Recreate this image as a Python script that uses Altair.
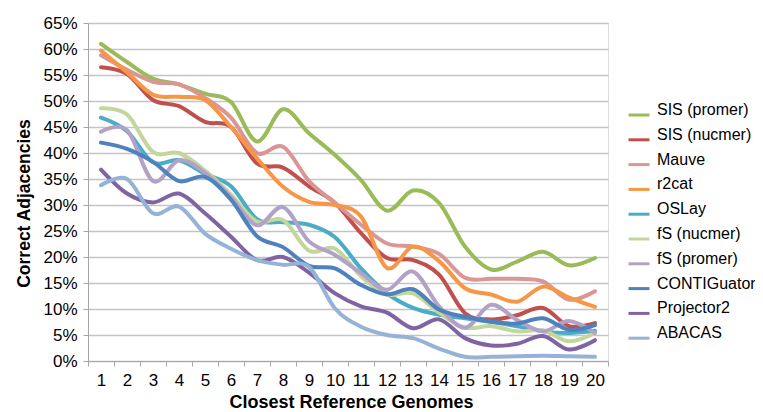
import altair as alt
import pandas as pd

genomes = list(range(1, 21))
series_names = ["SIS (promer)", "SIS (nucmer)", "Mauve", "r2cat", "OSLay",
                "fS (nucmer)", "fS (promer)", "CONTIGuator", "Projector2", "ABACAS"]
series_colors = ["#9BBB59", "#C0504D", "#D99694", "#F79646", "#4BACC6",
                 "#C3D69B", "#B3A2C7", "#4F81BD", "#8064A2", "#95B3D7"]

sis_promer = [61.0, 57.5, 54.3, 53.2, 51.4, 49.8, 42.2, 48.4, 43.8, 39.6, 34.8, 28.9, 32.8, 30.4, 22.0, 17.6, 19.1, 21.0, 18.4, 19.8]
sis_nucmer = [56.5, 55.2, 50.2, 49.0, 46.0, 45.0, 38.0, 37.2, 33.6, 30.4, 24.6, 19.8, 19.4, 16.6, 9.2, 8.0, 8.8, 10.2, 6.7, 7.3]
mauve = [58.8, 56.0, 53.7, 53.2, 50.6, 46.8, 40.0, 41.2, 34.6, 30.4, 26.2, 22.6, 22.0, 20.6, 16.0, 15.8, 15.8, 15.3, 11.8, 13.4]
r2cat = [59.7, 55.5, 51.2, 50.8, 50.2, 45.0, 39.0, 33.5, 30.6, 30.0, 27.8, 17.9, 22.0, 19.2, 14.0, 12.8, 11.4, 14.3, 12.2, 10.4]
oslay = [46.8, 44.2, 38.2, 38.6, 36.0, 33.6, 27.3, 26.7, 26.2, 23.8, 17.8, 13.0, 10.2, 8.9, 8.2, 7.5, 6.7, 5.7, 5.4, 5.8]
fs_nucmer = [48.6, 47.4, 40.2, 40.0, 36.6, 32.0, 26.8, 27.1, 21.2, 21.6, 16.3, 12.8, 13.0, 9.3, 6.4, 6.7, 5.7, 5.9, 3.8, 5.4]
fs_promer = [44.1, 44.4, 34.6, 38.6, 36.2, 31.5, 26.1, 29.6, 23.0, 20.4, 16.9, 13.7, 17.2, 10.5, 6.4, 10.8, 7.9, 5.7, 7.7, 5.4]
contiguator = [42.0, 40.8, 38.3, 34.6, 35.4, 31.0, 24.0, 21.9, 18.3, 17.8, 14.6, 12.8, 13.8, 9.9, 8.5, 7.6, 7.2, 8.2, 6.0, 6.9]
projector2 = [36.8, 32.2, 30.5, 32.2, 28.4, 23.9, 19.4, 20.0, 17.0, 13.0, 10.5, 9.3, 6.3, 8.0, 4.4, 3.0, 3.3, 4.8, 2.2, 4.0]
abacas = [33.8, 35.0, 28.4, 29.7, 24.5, 21.6, 19.4, 18.5, 18.1, 10.1, 6.6, 5.0, 4.4, 2.4, 0.8, 0.8, 0.9, 1.0, 0.9, 0.8]

y_ticks = [i * 0.05 for i in range(14)]
x_ticks = [g - 0.5 for g in genomes] + [genomes[-1] + 0.5]

all_series = [sis_promer, sis_nucmer, mauve, r2cat, oslay,
              fs_nucmer, fs_promer, contiguator, projector2, abacas]

rows = []
for k, (name, vals) in enumerate(zip(series_names, all_series)):
    for g, v in zip(genomes, vals):
        rows.append({"series": name, "genome": g, "value": v / 100.0, "k": k})
df = pd.DataFrame(rows)

FONT = "Liberation Sans"
W, H = 520, 338
band = W / len(genomes)

chart = alt.Chart(df).mark_line(
    interpolate="cardinal", strokeWidth=4, strokeCap="round", strokeJoin="round"
).encode(
    x=alt.X("genome:Q",
            scale=alt.Scale(domain=[0.5, 20.5], nice=False, zero=False),
            axis=alt.Axis(values=x_ticks,
                          labelExpr="datum.value > 20 ? '' : format(datum.value + 0.5, 'd')",
                          labelOffset=band / 2, labelFlush=False, labelOverlap=False,
                          grid=False, tickSize=5, tickColor="#A6A6A6", domainColor="#A6A6A6",
                          labelPadding=19, labelBaseline="alphabetic",
                          labelFont=FONT, labelFontSize=17, labelColor="#000000",
                          title="Closest Reference Genomes", titleFont=FONT, titleFontSize=18,
                          titleFontWeight="bold", titleColor="#000000",
                          titleX=263, titleY=46, titleAlign="center", titleBaseline="alphabetic")),
    y=alt.Y("value:Q",
            scale=alt.Scale(domain=[0, 0.65], nice=False),
            axis=alt.Axis(values=y_ticks, format=".0%", labelFlush=False, labelOverlap=False,
                          grid=True, gridColor="#C4C4C4", gridWidth=1.5,
                          tickSize=5, tickColor="#A6A6A6", domainColor="#A6A6A6",
                          labelPadding=6, labelFont=FONT, labelFontSize=17, labelColor="#000000",
                          title="Correct Adjacencies", titleFont=FONT, titleFontSize=17.5,
                          titleFontWeight="bold", titleColor="#000000",
                          titleX=-59, titleY=180, titleAngle=-90, titleAlign="center",
                          titleBaseline="alphabetic")),
    color=alt.Color("series:N",
                    scale=alt.Scale(domain=series_names, range=series_colors),
                    sort=series_names,
                    legend=alt.Legend(orient="none", legendX=539, legendY=80, title=None,
                                      symbolType="stroke", symbolSize=441, symbolStrokeWidth=3,
                                      labelFont=FONT, labelFontSize=16, labelColor="#000000",
                                      labelBaseline="alphabetic", labelOffset=6, rowPadding=5.8,
                                      labelLimit=200, padding=0)),
    detail="k:O",
).properties(
    width=W, height=H,
    padding={"left": 80, "top": 15, "right": 147, "bottom": 50},
    autosize=alt.AutoSizeParams(type="none"),
).configure_view(stroke=None).configure(background="#ffffff")

chart.save("out.html", embed_options={"renderer": "svg", "actions": False})
